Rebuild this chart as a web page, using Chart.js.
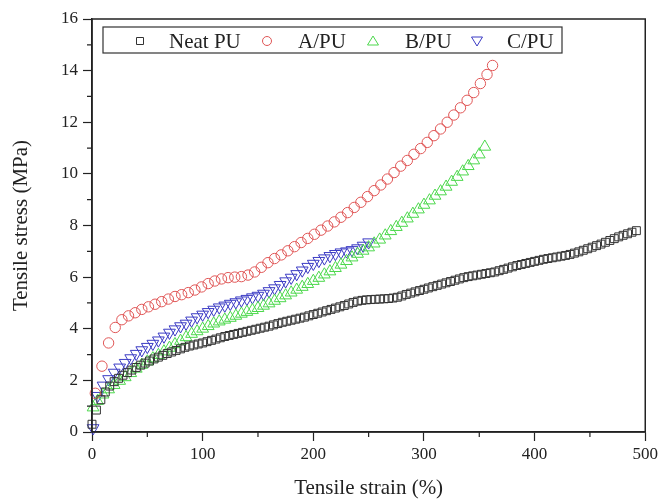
<!DOCTYPE html>
<html>
<head>
<meta charset="utf-8">
<script src="https://cdn.jsdelivr.net/npm/chart.js@4.4.1/dist/chart.umd.min.js"></script>
<style>
  html, body { margin: 0; padding: 0; background: #fff; }
  #wrap { width: 661px; height: 499px; }
</style>
</head>
<body>
<div id="wrap"><canvas id="chart" width="661" height="499"></canvas></div>
<script>
// strain (%) and stress (MPa)
const neatStrain = [0,4,8,12,16,20,24,28,32,36,40,44,48,52,56,60,64,68,72,76,80,84,88,92,96,100,
  104,108,112,116,120,124,128,132,136,140,144,148,152,156,160,164,168,172,176,180,184,188,192,196,200,
  204,208,212,216,220,224,228,232,236,240,244,248,252,256,260,264,268,272,276,280,284,288,292,296,300,
  304,308,312,316,320,324,328,332,336,340,344,348,352,356,360,364,368,372,376,380,384,388,392,396,400,
  404,408,412,416,420,424,428,432,436,440,444,448,452,456,460,464,468,472,476,480,484,488,492];
const neatStress = [0.3,0.85,1.25,1.55,1.78,1.95,2.08,2.2,2.3,2.4,2.5,2.59,2.67,2.75,2.83,2.9,2.97,3.04,3.1,3.16,3.22,3.28,3.33,3.37,3.41,3.45,
  3.5,3.55,3.6,3.65,3.7,3.74,3.78,3.82,3.86,3.9,3.94,3.98,4.02,4.06,4.1,4.15,4.2,4.25,4.29,4.33,4.37,4.41,4.45,4.5,4.55,
  4.6,4.65,4.7,4.75,4.8,4.85,4.9,4.96,5.02,5.07,5.1,5.12,5.13,5.14,5.15,5.16,5.17,5.19,5.22,5.27,5.33,5.38,5.43,5.48,5.53,
  5.58,5.63,5.68,5.73,5.78,5.83,5.88,5.93,5.98,6.02,6.05,6.08,6.11,6.14,6.17,6.2,6.25,6.3,6.35,6.4,6.45,6.49,6.53,6.57,6.61,
  6.65,6.69,6.72,6.75,6.78,6.81,6.84,6.88,6.93,6.98,7.04,7.1,7.16,7.22,7.28,7.35,7.42,7.49,7.56,7.62,7.68,7.74,7.8];

const aStrain = [3,9,15,21,27,33,39,45,51,57,63,69,75,81,87,93,99,105,111,117,123,129,135,141,147,153,159,165,171,177,
  183,189,195,201,207,213,219,225,231,237,243,249,255,261,267,273,279,285,291,297,303,309,315,321,327,333,339,345,351,357,362];
const aStress = [1.5,2.55,3.45,4.05,4.35,4.5,4.62,4.75,4.85,4.95,5.05,5.15,5.25,5.32,5.4,5.5,5.62,5.75,5.85,5.93,5.98,6.0,6.02,6.08,6.2,6.38,6.56,6.72,6.86,7.02,
  7.18,7.34,7.5,7.66,7.82,7.98,8.14,8.32,8.5,8.7,8.9,9.12,9.35,9.57,9.8,10.05,10.3,10.52,10.76,10.98,11.22,11.48,11.74,12.0,12.28,12.56,12.85,13.15,13.5,13.85,14.2];

const bStrain = [1,5,10,15,20,25,30,35,40,45,50,55,60,65,70,75,80,85,90,95,100,105,110,115,120,125,130,135,140,145,150,
  155,160,165,170,175,180,185,190,195,200,205,210,215,220,225,230,235,240,245,250,255,260,265,270,275,280,285,290,295,300,
  305,310,315,320,325,330,335,340,345,350,355];
const bStress = [0.95,1.2,1.45,1.65,1.82,1.98,2.12,2.28,2.45,2.6,2.73,2.85,2.98,3.12,3.26,3.4,3.53,3.67,3.8,3.9,4.0,4.1,4.2,4.28,4.35,4.42,4.5,4.58,4.65,4.72,4.8,
  4.89,4.98,5.08,5.18,5.29,5.4,5.51,5.62,5.73,5.85,5.97,6.1,6.22,6.35,6.48,6.62,6.76,6.9,7.02,7.15,7.3,7.45,7.61,7.78,7.94,8.1,8.27,8.45,8.62,8.8,
  8.97,9.15,9.32,9.5,9.69,9.88,10.09,10.3,10.52,10.75,11.05];

const cStrain = [1,5,10,15,20,25,30,35,40,45,50,55,60,65,70,75,80,85,90,95,100,105,110,115,120,125,130,135,140,145,150,
  155,160,165,170,175,180,185,190,195,200,205,210,215,220,225,230,235,240,245,250];
const cStress = [0.15,1.4,1.8,2.05,2.3,2.5,2.68,2.86,3.03,3.17,3.3,3.42,3.55,3.7,3.85,3.98,4.1,4.2,4.32,4.45,4.55,4.65,4.74,4.83,4.9,4.97,5.03,5.1,5.16,5.22,5.28,
  5.36,5.46,5.57,5.7,5.84,5.98,6.12,6.26,6.4,6.52,6.63,6.73,6.82,6.9,6.96,7.0,7.05,7.12,7.22,7.35];

const seriesNames = ['Neat PU', 'A/PU', 'B/PU', 'C/PU'];
const xTicks = [0, 100, 200, 300, 400, 500];
const yTicks = [0, 2, 4, 6, 8, 10, 12, 14, 16];

const ink = '#222';
const serif = '"Liberation Serif", "Times New Roman", serif';

function pts(xs, ys) {
  return xs.map((x, i) => ({ x: x, y: ys[i] }));
}

// extra bits Chart.js doesn't do: minor ticks, top/right frame, boxed legend
const framePlugin = {
  id: 'frame',
  afterDraw(chart) {
    const ctx = chart.ctx;
    const a = chart.chartArea;
    const xs = chart.scales.x, ys = chart.scales.y;
    ctx.save();
    ctx.strokeStyle = ink;
    ctx.lineWidth = 1.5;
    ctx.strokeRect(a.left, a.top, a.right - a.left, a.bottom - a.top);
    ctx.lineWidth = 1.2;
    ctx.beginPath();
    for (let v = 50; v < 500; v += 100) {
      const px = xs.getPixelForValue(v);
      ctx.moveTo(px, a.bottom);
      ctx.lineTo(px, a.bottom + 5);
    }
    for (let v = 1; v < 16; v += 2) {
      const py = ys.getPixelForValue(v);
      ctx.moveTo(a.left, py);
      ctx.lineTo(a.left - 5, py);
    }
    ctx.stroke();

    // legend
    const box = { left: 103, top: 27, right: 562, bottom: 53 };
    const markX = [140, 267, 373, 477];
    const textX = [169, 298, 405, 507];
    const cy = 41;
    ctx.fillStyle = '#fff';
    ctx.fillRect(box.left, box.top, box.right - box.left, box.bottom - box.top);
    ctx.strokeStyle = '#333';
    ctx.lineWidth = 1.2;
    ctx.strokeRect(box.left, box.top, box.right - box.left, box.bottom - box.top);
    chart.data.datasets.forEach((ds, i) => {
      const mx = markX[i];
      ctx.strokeStyle = ds.borderColor;
      ctx.lineWidth = 1;
      ctx.beginPath();
      if (ds.pointStyle === 'rect') {
        ctx.rect(mx - 3.5, cy - 3.5, 7, 7);
      } else if (ds.pointStyle === 'circle') {
        ctx.arc(mx, cy, 4.5, 0, Math.PI * 2);
      } else if (ds.pointRotation === 180) {
        ctx.moveTo(mx - 5.5, cy - 4);
        ctx.lineTo(mx + 5.5, cy - 4);
        ctx.lineTo(mx, cy + 5);
        ctx.closePath();
      } else {
        ctx.moveTo(mx - 5.5, cy + 4);
        ctx.lineTo(mx + 5.5, cy + 4);
        ctx.lineTo(mx, cy - 5);
        ctx.closePath();
      }
      ctx.stroke();
      ctx.fillStyle = ink;
      ctx.font = '21px ' + serif;
      ctx.textBaseline = 'middle';
      ctx.textAlign = 'left';
      ctx.fillText(ds.label, textX[i], cy + 1);
    });
    ctx.restore();
  }
};

const common = {
  showLine: false,
  backgroundColor: 'rgba(0,0,0,0)',
  pointBorderWidth: 1,
  clip: false
};

new Chart(document.getElementById('chart'), {
  type: 'scatter',
  data: {
    datasets: [
      Object.assign({ label: seriesNames[0], data: pts(neatStrain, neatStress), borderColor: '#333',
        pointStyle: 'rect', pointRadius: 5.6 }, common),
      Object.assign({ label: seriesNames[1], data: pts(aStrain, aStress), borderColor: '#e05656',
        pointStyle: 'circle', pointRadius: 5.2 }, common),
      Object.assign({ label: seriesNames[2], data: pts(bStrain, bStress), borderColor: '#4cd84c',
        pointStyle: 'triangle', pointRadius: 6.8 }, common),
      Object.assign({ label: seriesNames[3], data: pts(cStrain, cStress), borderColor: '#3b3bc4',
        pointStyle: 'triangle', pointRotation: 180, pointRadius: 6.8 }, common)
    ]
  },
  options: {
    responsive: false,
    animation: false,
    layout: { padding: { top: 19, right: 14, left: 0, bottom: 0 } },
    plugins: {
      legend: { display: false },
      tooltip: { enabled: false }
    },
    scales: {
      x: {
        type: 'linear',
        min: 0,
        max: 500,
        afterFit: s => { s.height = 67; },
        afterBuildTicks: s => { s.ticks = xTicks.map(v => ({ value: v })); },
        ticks: { color: ink, padding: 3, font: { family: serif, size: 17 }, maxRotation: 0 },
        grid: { drawOnChartArea: false, tickLength: 9, color: ink, tickWidth: 1.2 },
        border: { color: ink, width: 1.5 },
        title: { display: true, text: 'Tensile strain (%)', color: ink,
          font: { family: serif, size: 21, lineHeight: 1 }, padding: { top: 0, bottom: 0 } }
      },
      y: {
        min: 0,
        max: 16,
        afterFit: s => { s.width = 92; },
        afterBuildTicks: s => { s.ticks = yTicks.map(v => ({ value: v })); },
        ticks: { color: ink, padding: 5, font: { family: serif, size: 17 } },
        grid: { drawOnChartArea: false, tickLength: 9, color: ink, tickWidth: 1.2 },
        border: { color: ink, width: 1.5 },
        title: { display: true, text: 'Tensile stress (MPa)', color: ink,
          font: { family: serif, size: 21, lineHeight: 1 }, padding: { top: 11, bottom: 0 } }
      }
    }
  },
  plugins: [framePlugin]
});
</script>
</body>
</html>
